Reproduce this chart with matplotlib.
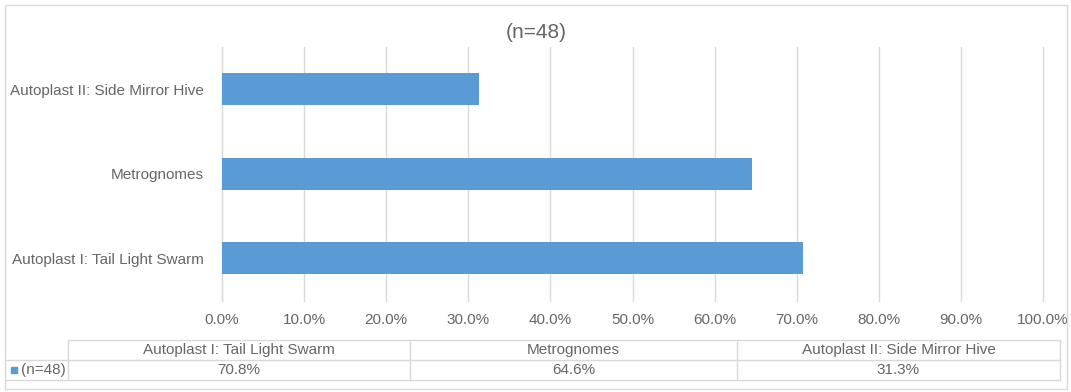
import matplotlib
matplotlib.use("Agg")
import matplotlib.pyplot as plt
from matplotlib.lines import Line2D
from matplotlib.patches import Rectangle
from matplotlib.ticker import FuncFormatter, MultipleLocator

# Survey results
categories = ["Autoplast I: Tail Light Swarm", "Metrognomes", "Autoplast II: Side Mirror Hive"]
shares = [70.8, 64.6, 31.3]
series_name = "(n=48)"
chart_title = "(n=48)"

W, H = 1071, 392
BAR = "#5B9BD5"
TEXT = "#666666"
GRID = "#D9D9D9"
FONT = ["Liberation Sans", "DejaVu Sans"]
FS = 11

plt.rcParams["font.family"] = FONT

fig = plt.figure(figsize=(W / 100, H / 100), dpi=100)


def fx(x):
    return x / W


def fy(y):
    return 1 - y / H


# outer chart frame
fig.patches.append(Rectangle((fx(5), fy(389)), fx(1067) - fx(5), fy(5) - fy(389),
                             transform=fig.transFigure, fill=False,
                             edgecolor=GRID, linewidth=1.0))

# plot area
x0, x1, ytop, ybot = 222, 1043, 47, 300.5
ax = fig.add_axes([fx(x0), fy(ybot), fx(x1) - fx(x0), fy(ytop) - fy(ybot)])
ypos = list(range(len(categories)))
ax.barh(ypos, shares, height=0.38, color=BAR, zorder=3)
ax.set_xlim(0, 100)
ax.set_ylim(-0.5, len(categories) - 0.5)
ax.xaxis.set_major_locator(MultipleLocator(10))
ax.xaxis.set_major_formatter(FuncFormatter(lambda v, p: f"{v:.1f}%"))
ax.set_yticks(ypos)
ax.set_yticklabels(categories)
ax.grid(axis="x", color=GRID, linewidth=1.0, zorder=0)
for gl in ax.get_xgridlines():
    gl.set_clip_on(False)
for s in ["top", "right", "bottom"]:
    ax.spines[s].set_visible(False)
ax.spines["left"].set_color(GRID)
ax.tick_params(axis="both", length=0, colors=TEXT, labelsize=FS)
ax.tick_params(axis="y", pad=13)
ax.tick_params(axis="x", pad=9)

fig.text(fx(536), fy(33), chart_title, ha="center", va="center",
         fontsize=15, color=TEXT)

# data table under the value axis
col_edges = [68, 410, 737, 1060]
row_top, row_mid, row_bot = 340, 360, 380
key_left = 5


def hline(y, xa, xb):
    fig.add_artist(Line2D([fx(xa), fx(xb)], [fy(y), fy(y)], transform=fig.transFigure,
                          color=GRID, linewidth=1.0))


def vline(x, ya, yb):
    fig.add_artist(Line2D([fx(x), fx(x)], [fy(ya), fy(yb)], transform=fig.transFigure,
                          color=GRID, linewidth=1.0))


hline(row_top, col_edges[0], col_edges[-1])
hline(row_mid, key_left, col_edges[-1])
hline(row_bot, key_left, col_edges[-1])
for xe in col_edges:
    vline(xe, row_top, row_bot)

for i, (cat, val) in enumerate(zip(categories, shares)):
    cx = (col_edges[i] + col_edges[i + 1]) / 2
    fig.text(fx(cx), fy((row_top + row_mid) / 2), cat, ha="center", va="center",
             fontsize=FS, color=TEXT)
    fig.text(fx(cx), fy((row_mid + row_bot) / 2), f"{val:.1f}%", ha="center",
             va="center", fontsize=FS, color=TEXT)

# legend key in the first column
fig.patches.append(Rectangle((fx(11), fy(373)), fx(6), fy(0) - fy(6),
                             transform=fig.transFigure, color=BAR))
fig.text(fx(21), fy((row_mid + row_bot) / 2), series_name, ha="left", va="center",
         fontsize=FS, color=TEXT)

fig.savefig("out.png", dpi=100)
